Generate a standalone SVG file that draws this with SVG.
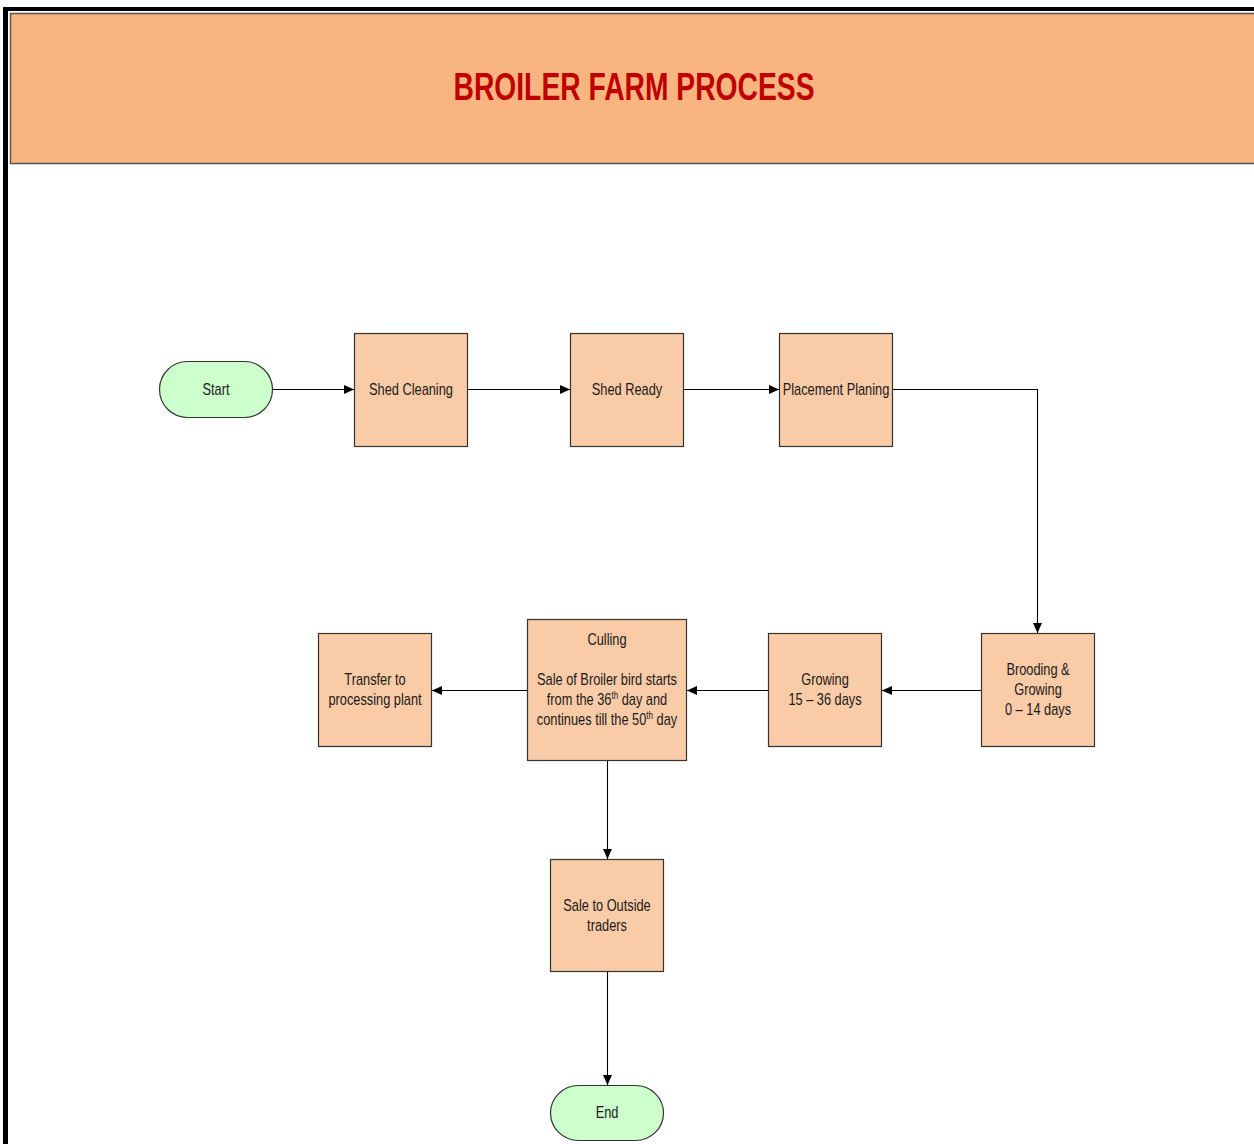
<svg xmlns="http://www.w3.org/2000/svg" width="1254" height="1144" viewBox="0 0 1254 1144">
<defs>
<style>
.box{fill:#F9CBA6;stroke:#333;stroke-width:1.2}
.pill{fill:#CCFFCC;stroke:#333;stroke-width:1.2}
.t{font-family:"Liberation Sans",Arial,sans-serif;font-size:16px;fill:#1a1a1a;text-anchor:middle}
.c{fill:none;stroke:#000;stroke-width:1.1}
</style>
<marker id="ah" viewBox="0 0 10 10" refX="10" refY="5" markerWidth="10" markerHeight="10" markerUnits="userSpaceOnUse" orient="auto">
<path d="M0,0.5 L10,5 L0,9.5 Z" fill="#000"/>
</marker>
</defs>
<rect x="0" y="0" width="1254" height="1144" fill="#fff"/>
<g id="frame">
<rect x="3" y="7" width="1251" height="4" fill="#000"/>
<rect x="3" y="7" width="5" height="1137" fill="#000"/>
<rect x="10.5" y="13.5" width="1250" height="150" fill="#F8B580" stroke="#555" stroke-width="1.5"/>
<text x="634" y="100" font-family="'Liberation Sans',sans-serif" font-weight="bold" font-size="39" fill="#C00000" text-anchor="middle" textLength="361" lengthAdjust="spacingAndGlyphs">BROILER FARM PROCESS</text>
</g>
<g id="connectors">
<line class="c" x1="272" y1="389.5" x2="354" y2="389.5" marker-end="url(#ah)"/>
<line class="c" x1="467" y1="389.5" x2="570" y2="389.5" marker-end="url(#ah)"/>
<line class="c" x1="683" y1="389.5" x2="779" y2="389.5" marker-end="url(#ah)"/>
<polyline class="c" points="892,389.5 1037.5,389.5 1037.5,633" marker-end="url(#ah)"/>
<line class="c" x1="981" y1="690.5" x2="882" y2="690.5" marker-end="url(#ah)"/>
<line class="c" x1="768" y1="690.5" x2="687" y2="690.5" marker-end="url(#ah)"/>
<line class="c" x1="527" y1="690.5" x2="432" y2="690.5" marker-end="url(#ah)"/>
<line class="c" x1="607.5" y1="760" x2="607.5" y2="859" marker-end="url(#ah)"/>
<line class="c" x1="607.5" y1="972" x2="607.5" y2="1085" marker-end="url(#ah)"/>
</g>
<g id="start">
<rect class="pill" x="159.5" y="361.5" width="113" height="56" rx="28" ry="28"/>
<text class="t" transform="translate(216 395) scale(0.8 1)">Start</text>
</g>
<g id="shed-cleaning">
<rect class="box" x="354.5" y="333.5" width="113" height="113"/>
<text class="t" transform="translate(411 395) scale(0.8 1)">Shed Cleaning</text>
</g>
<g id="shed-ready">
<rect class="box" x="570.5" y="333.5" width="113" height="113"/>
<text class="t" transform="translate(627 395) scale(0.8 1)">Shed Ready</text>
</g>
<g id="placement-planing">
<rect class="box" x="779.5" y="333.5" width="113" height="113"/>
<text class="t" transform="translate(836 395) scale(0.8 1)">Placement Planing</text>
</g>
<g id="brooding">
<rect class="box" x="981.5" y="633.5" width="113" height="113"/>
<text class="t" transform="translate(1038 675) scale(0.8 1)">Brooding &amp;</text>
<text class="t" transform="translate(1038 695) scale(0.8 1)">Growing</text>
<text class="t" transform="translate(1038 715) scale(0.8 1)">0 – 14 days</text>
</g>
<g id="growing">
<rect class="box" x="768.5" y="633.5" width="113" height="113"/>
<text class="t" transform="translate(825 685) scale(0.8 1)">Growing</text>
<text class="t" transform="translate(825 705) scale(0.8 1)">15 – 36 days</text>
</g>
<g id="culling">
<rect class="box" x="527.5" y="619.5" width="159" height="141"/>
<text class="t" transform="translate(607 645) scale(0.8 1)">Culling</text>
<text class="t" transform="translate(607 685) scale(0.8 1)">Sale of Broiler bird starts</text>
<text class="t" transform="translate(607 705) scale(0.8 1)">from the 36<tspan font-size="10" dy="-6">th</tspan><tspan dy="6"> day and</tspan></text>
<text class="t" transform="translate(607 725) scale(0.8 1)">continues till the 50<tspan font-size="10" dy="-6">th</tspan><tspan dy="6"> day</tspan></text>
</g>
<g id="transfer">
<rect class="box" x="318.5" y="633.5" width="113" height="113"/>
<text class="t" transform="translate(375 685) scale(0.8 1)">Transfer to</text>
<text class="t" transform="translate(375 705) scale(0.8 1)">processing plant</text>
</g>
<g id="sale-outside">
<rect class="box" x="550.5" y="859.5" width="113" height="112"/>
<text class="t" transform="translate(607 911) scale(0.8 1)">Sale to Outside</text>
<text class="t" transform="translate(607 931) scale(0.8 1)">traders</text>
</g>
<g id="end">
<rect class="pill" x="550.5" y="1085.5" width="113" height="55" rx="28" ry="27.5"/>
<text class="t" transform="translate(607 1118) scale(0.8 1)">End</text>
</g>
</svg>
